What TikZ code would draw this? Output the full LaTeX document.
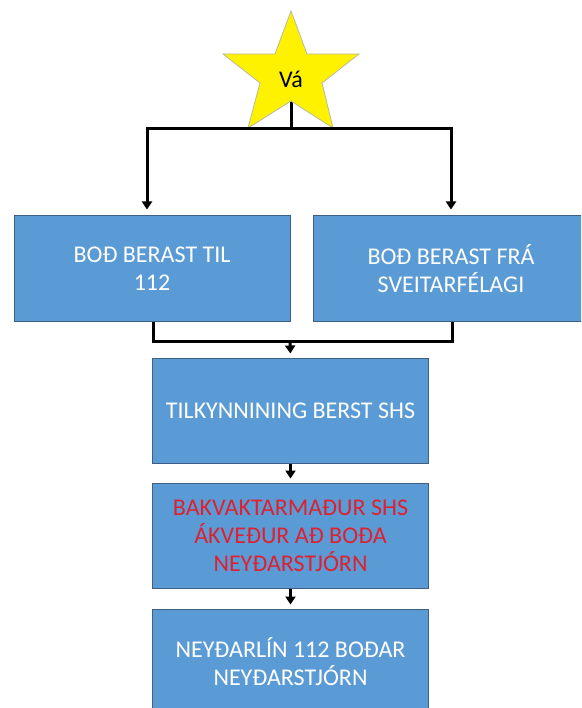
\documentclass[tikz,border=0pt]{standalone}
\usepackage{fontspec}
\setmainfont{Carlito}
\usetikzlibrary{arrows.meta}
\definecolor{boxblue}{RGB}{91,155,213}
\definecolor{boxedge}{RGB}{62,95,130}
\definecolor{alertred}{RGB}{222,32,48}
\definecolor{staredge}{RGB}{185,185,160}
\tikzset{
  stepbox/.style={draw=boxedge, line width=1pt, fill=boxblue, text=white,
    minimum width=276pt, minimum height=105pt, align=center, inner sep=0pt,
    font=\fontsize{24}{28}\selectfont},
  wire/.style={line width=3pt, black},
  arr/.style={wire, -{Triangle[width=10pt,length=8pt]}},
}

\begin{document}
\begin{tikzpicture}[x=1pt,y=-1pt]
  \useasboundingbox (0,0) rectangle (581,708);
  \clip (0,0) rectangle (581,708);

  % Coordinates
  \coordinate (St) at (291,11);
  \coordinate (Sa) at (307,54);
  \coordinate (Sr) at (359,54);
  \coordinate (Sb) at (322,83);
  \coordinate (Sbr) at (333,128);
  \coordinate (Sc) at (291,101);
  \coordinate (Sbl) at (248,128);
  \coordinate (Sd) at (260,83);
  \coordinate (Sl) at (223,54);
  \coordinate (Se) at (275,54);
  \coordinate (fork) at (291,129);
  \coordinate (merge) at (290,341);

  % Star
  \draw[wire] (Sc) -- (fork);
  \filldraw[fill=yellow, draw=staredge, line width=0.8pt]
    (St) -- (Sa) -- (Sr) -- (Sb) -- (Sbr) -- (Sc) -- (Sbl) -- (Sd) -- (Sl) -- (Se) -- cycle;
  \node[font=\fontsize{24}{28}\selectfont] (va) at (291,79) {Vá};

  % Boxes
  \node[stepbox] (til) at (152,268.5) {BOÐ BERAST TIL\\112};
  \node[stepbox] (fra) at (451,268.5) {BOÐ BERAST FRÁ\\SVEITARFÉLAGI};
  \node[stepbox] (tilk) at (290.5,410.5) {TILKYNNINING BERST SHS};
  \node[stepbox, text=alertred] (bak) at (290.5,535.5) {BAKVAKTARMAÐUR SHS\\ÁKVEÐUR AÐ BOÐA\\NEYÐARSTJÓRN};
  \node[stepbox] (ney) at (290.5,661.5) {NEYÐARLÍN 112 BOÐAR\\NEYÐARSTJÓRN};

  % Drawing
  \draw[arr, shorten >=6pt] (fork) -| ([xshift=-5pt]til.north);
  \draw[arr, shorten >=6pt] (fork) -| (fra.north);
  \draw[wire] ([xshift=1pt]til.south) |- (merge) -| ([xshift=1pt]fra.south);
  \draw[arr, shorten >=4pt] (merge) -- (tilk.north);
  \draw[arr, shorten >=4pt] (tilk.south) -- (bak.north);
  \draw[arr, shorten >=4pt] (bak.south) -- (ney.north);
\end{tikzpicture}
\end{document}
